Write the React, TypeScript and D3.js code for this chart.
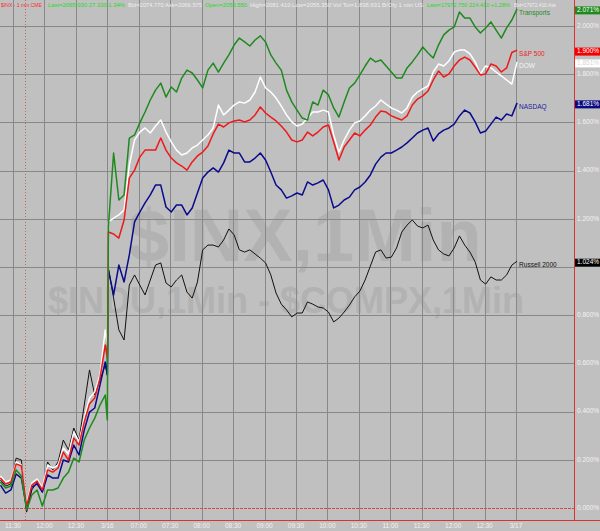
import React from 'react';
import * as d3 from 'd3';

// time axis (minutes from the "11:30" gridline), one sample every ~5 minutes
const minutes: number[] = [...d3.range(-12, 89, 5), 90, 91, ...d3.range(96, 477, 5), 481];

const timeLabels = ['11:30', '12:00', '12:30', '3/16', '07:00', '07:30', '08:00', '08:30', '09:00', '09:30', '10:00', '10:30', '11:00', '11:30', '12:00', '12:30', '3/17'];
const timeTickMinutes = [0, 30, 60, 90, 120, 150, 180, 210, 240, 270, 300, 330, 360, 390, 420, 450, 480];

const yTicks = [0, 0.2, 0.4, 0.6, 0.8, 1.0, 1.2, 1.4, 1.6, 1.8, 2.0];

const transports = [0.108,0.083,0.091,0.158,0.133,-0.008,0.054,0.075,0.008,0.075,
0.075,0.083,0.124,0.149,0.207,0.191,0.282,0.332,0.373,0.427,
0.469,0.365,1.166,1.473,1.278,1.299,1.535,1.548,1.598,1.643,
1.693,1.734,1.763,1.705,1.747,1.726,1.784,1.817,1.805,1.776,
1.743,1.817,1.846,1.809,1.846,1.880,1.921,1.950,1.934,1.917,
1.942,1.959,1.934,1.880,1.846,1.817,1.734,1.685,1.651,1.618,
1.610,1.685,1.672,1.734,1.714,1.660,1.622,1.685,1.743,1.763,
1.797,1.834,1.867,1.851,1.859,1.834,1.809,1.784,1.784,1.826,
1.851,1.880,1.913,1.888,1.867,1.921,1.963,1.983,1.996,2.058,
2.033,2.033,1.996,1.971,1.992,2.017,1.983,1.950,1.992,2.025,
2.071];

const sp500 = [0.124,0.100,0.108,0.183,0.174,0.008,0.095,0.112,0.075,0.158,
0.149,0.166,0.232,0.199,0.290,0.261,0.357,0.432,0.456,0.539,
0.676,0.622,1.145,1.137,1.120,1.195,1.369,1.402,1.456,1.485,
1.485,1.485,1.535,1.485,1.452,1.432,1.419,1.402,1.436,1.461,
1.477,1.502,1.552,1.593,1.581,1.598,1.606,1.610,1.602,1.610,
1.631,1.664,1.639,1.622,1.606,1.585,1.560,1.527,1.519,1.527,
1.560,1.544,1.560,1.581,1.589,1.519,1.444,1.498,1.527,1.556,
1.544,1.568,1.589,1.622,1.647,1.643,1.627,1.618,1.610,1.627,
1.672,1.697,1.710,1.730,1.776,1.813,1.788,1.801,1.834,1.859,
1.871,1.859,1.830,1.797,1.801,1.842,1.834,1.809,1.826,1.890,
1.900];

const dow = [0.133,0.108,0.116,0.191,0.178,0.017,0.104,0.120,0.083,0.178,
0.166,0.178,0.249,0.224,0.315,0.274,0.373,0.456,0.481,0.552,
0.739,0.676,1.187,1.203,1.216,1.237,1.423,1.527,1.560,1.577,
1.556,1.585,1.610,1.560,1.519,1.485,1.465,1.473,1.494,1.506,
1.527,1.548,1.577,1.672,1.631,1.651,1.672,1.685,1.680,1.693,
1.726,1.788,1.743,1.726,1.701,1.668,1.631,1.602,1.585,1.593,
1.618,1.643,1.643,1.651,1.643,1.548,1.477,1.527,1.568,1.598,
1.606,1.627,1.651,1.668,1.693,1.676,1.660,1.651,1.639,1.660,
1.705,1.726,1.739,1.751,1.809,1.842,1.834,1.855,1.892,1.900,
1.900,1.884,1.851,1.801,1.834,1.826,1.809,1.793,1.776,1.759,
1.851];

const nasdaq = [0.095,0.062,0.075,0.141,0.124,0.000,0.087,0.100,0.066,0.137,
0.124,0.124,0.199,0.191,0.261,0.220,0.324,0.398,0.415,0.510,
0.606,0.552,0.988,0.884,1.008,0.938,1.050,1.187,1.228,1.266,
1.299,1.340,1.340,1.249,1.228,1.257,1.257,1.216,1.245,1.307,
1.369,1.394,1.411,1.394,1.432,1.485,1.473,1.473,1.436,1.436,
1.452,1.473,1.444,1.394,1.340,1.320,1.286,1.295,1.307,1.299,
1.353,1.340,1.349,1.361,1.320,1.245,1.257,1.278,1.290,1.320,
1.332,1.353,1.382,1.427,1.456,1.473,1.473,1.485,1.498,1.515,
1.535,1.556,1.568,1.577,1.523,1.552,1.568,1.577,1.593,1.627,
1.651,1.639,1.602,1.556,1.564,1.593,1.622,1.610,1.635,1.627,
1.681];

const russell = [0.116,0.091,0.100,0.207,0.199,-0.017,0.075,0.108,0.066,0.191,
0.158,0.191,0.282,0.241,0.332,0.282,0.427,0.573,0.469,0.531,
0.593,0.552,0.996,0.871,0.739,0.697,0.925,0.967,0.925,0.884,
0.946,1.008,1.017,0.934,0.917,0.946,0.967,0.896,0.871,0.938,
1.071,1.091,1.091,1.083,1.112,1.158,1.133,1.071,1.062,1.071,
1.054,1.037,1.017,0.967,0.892,0.846,0.822,0.793,0.809,0.809,
0.855,0.846,0.834,0.830,0.813,0.772,0.788,0.813,0.842,0.876,
0.900,0.946,1.004,1.062,1.071,1.037,1.041,1.079,1.145,1.174,
1.195,1.170,1.162,1.174,1.112,1.071,1.054,1.046,1.079,1.129,
1.091,1.062,1.021,0.946,0.929,0.959,0.946,0.946,0.967,1.008,
1.024];

const seriesNames = ['Russell 2000', 'NASDAQ', 'DOW', 'S&P 500', 'Transports'];

const headerTexts = [
  '$INX - 1 min  CME',
  'Last=2065.930  27.330  1.34%',
  'Bid=2074.770  Ask=2066.575',
  'Open=2055.550',
  'High=2081.410  Low=2055.350  Vol Tot=1,838,631  B/Ofy  1 min  US',
  'Last=17972.750  224.410  +1.28%',
  'Bid=17972.410  Ask',
];
const headerColors = ['#ff2a2a', '#22dd22', '#eeeeee', '#22dd22', '#eeeeee', '#22dd22', '#eeeeee'];
const headerSpans: [number, number][] = [[1, 42], [48, 125], [128, 202], [205, 247], [250, 423], [427, 510], [514, 556]];

const W = 600;
const H = 531;
const PLOT_R = 574;
const PLOT_B = 521;
const FONT = '"Liberation Sans", Arial, sans-serif';

export default function App() {
  const x = d3.scaleLinear().domain([-12.4, 535.3]).range([0, PLOT_R]);
  const y = d3.scaleLinear().domain([0, 2]).range([508, 26]);

  const series = [
    { name: seriesNames[0], values: russell, color: '#111111', width: 1, labelColor: '#111111', box: '#000000', boxText: '#ffffff' },
    { name: seriesNames[1], values: nasdaq, color: '#0a0a8c', width: 1.5, labelColor: '#1a1aa0', box: '#0a0a80', boxText: '#ffffff' },
    { name: seriesNames[2], values: dow, color: '#ffffff', width: 1.5, labelColor: '#f4f4f4', box: '#ffffff', boxText: '#d8d8d8' },
    { name: seriesNames[3], values: sp500, color: '#f01818', width: 1.5, labelColor: '#f02020', box: '#f00000', boxText: '#ffffff' },
    { name: seriesNames[4], values: transports, color: '#1e8a1e', width: 1.5, labelColor: '#1e8a1e', box: '#1e8a1e', boxText: '#ffffff' },
  ];

  const line = (vals: number[]) =>
    d3.line<number>()
      .x((_, i) => x(minutes[i]))
      .y((d) => y(d))(vals) || '';

  const fmt = d3.format('.3f');
  const boxes = series.map((s) => y(s.values[s.values.length - 1]) + 1.5);

  return (
    <svg width={W} height={H} style={{ position: 'absolute', left: 0, top: 0, display: 'block' }} fontFamily={FONT}>
      <rect x={0} y={0} width={W} height={H} fill="#c0c0c0" />

      {/* watermark */}
      <text x={128} y={261} fontSize={74} fontWeight="bold" fill="#b2b2b2">$INX,1Min</text>
      <text x={48} y={313} fontSize={36} fontWeight="bold" fill="#b2b2b2">$INDU,1Min - $COMPX,1Min</text>

      {/* horizontal grid */}
      {yTicks.filter((t) => t > 0).map((t) => (
        <line key={'h' + t} x1={0} x2={PLOT_R} y1={Math.round(y(t)) + 0.5} y2={Math.round(y(t)) + 0.5} stroke="#888888" strokeWidth={1} />
      ))}
      {/* vertical grid */}
      {timeTickMinutes.map((m) => (
        <line key={'v' + m} x1={Math.round(x(m)) + 0.5} x2={Math.round(x(m)) + 0.5} y1={0} y2={PLOT_B} stroke="#888888" strokeWidth={1} />
      ))}

      {/* session marker */}
      <line x1={25.5} x2={25.5} y1={0} y2={PLOT_B} stroke="#d06060" strokeWidth={1} strokeDasharray="1,2" />
      {/* zero line */}
      <line x1={0} x2={PLOT_R} y1={Math.round(y(0)) + 0.5} y2={Math.round(y(0)) + 0.5} stroke="#d84848" strokeWidth={1} strokeDasharray="3,1" />
      {/* plot border */}
      <line x1={0} x2={W} y1={PLOT_B - 0.5} y2={PLOT_B - 0.5} stroke="#e03030" strokeWidth={1} />
      <line x1={PLOT_R + 0.5} x2={PLOT_R + 0.5} y1={0} y2={PLOT_B} stroke="#e03030" strokeWidth={1} />

      {/* series lines */}
      {series.map((s) => (
        <path key={s.name} d={line(s.values)} fill="none" stroke={s.color} strokeWidth={s.width} strokeLinejoin="round" />
      ))}

      {/* series name labels */}
      {series.map((s) => {
        const last = s.values[s.values.length - 1];
        return (
          <text key={'n' + s.name} x={x(minutes[minutes.length - 1]) + 2} y={y(last) + 4} fontSize={6.5} fill={s.labelColor} dominantBaseline="middle">
            {s.name}
          </text>
        );
      })}

      {/* right axis tick labels (hidden where a last-value box covers them) */}
      {yTicks
        .filter((t) => boxes.every((b) => Math.abs(b - y(t)) > 5))
        .map((t) => (
          <text key={'yl' + t} x={577} y={y(t)} fontSize={6.5} fill="#f2f2f2" dominantBaseline="middle">
            {fmt(t) + '%'}
          </text>
        ))}

      {/* last value boxes */}
      {series.map((s, i) => {
        const last = s.values[s.values.length - 1];
        const cy = boxes[i];
        return (
          <g key={'b' + s.name}>
            <rect x={575} y={cy - 4} width={25} height={8} fill={s.box} />
            <text x={577} y={cy} fontSize={6.5} fill={s.boxText} dominantBaseline="middle">
              {fmt(last) + '%'}
            </text>
          </g>
        );
      })}

      {/* time labels */}
      {timeTickMinutes.map((m, i) => (
        <text key={'t' + m} x={x(m)} y={526.5} fontSize={6.5} fill="#f2f2f2" textAnchor="middle" dominantBaseline="middle">
          {timeLabels[i]}
        </text>
      ))}

      {/* header */}
      {headerTexts.map((t, i) => (
        <text key={'hd' + i} x={headerSpans[i][0]} y={5} fontSize={6} fill={headerColors[i]} dominantBaseline="middle"
          textLength={headerSpans[i][1] - headerSpans[i][0]} lengthAdjust="spacingAndGlyphs">
          {t}
        </text>
      ))}
    </svg>
  );
}
